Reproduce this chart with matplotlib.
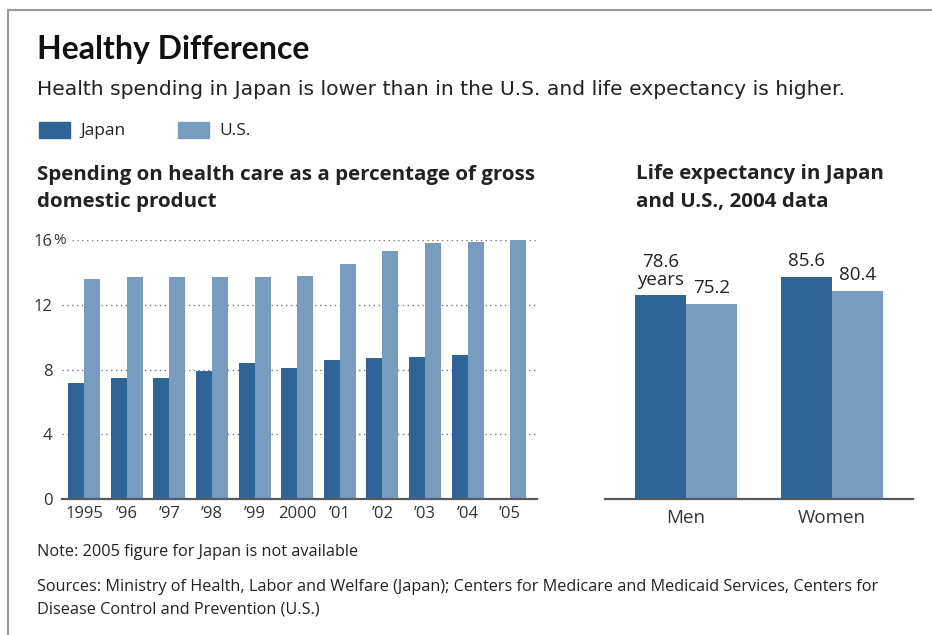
import numpy as np
import matplotlib
matplotlib.use("Agg")
from matplotlib import pyplot as plt
from matplotlib import font_manager
from matplotlib.patches import Rectangle
from matplotlib.lines import Line2D

### data ###
years = ['1995', '\u201996', '\u201997', '\u201998', '\u201999', '2000',
         '\u201901', '\u201902', '\u201903', '\u201904', '\u201905']
japan_spend = [7.2, 7.5, 7.5, 7.9, 8.4, 8.1, 8.6, 8.7, 8.8, 8.9, None]
us_spend = [13.6, 13.7, 13.7, 13.7, 13.7, 13.8, 14.5, 15.3, 15.8, 15.9, 16.0]
spend_ticks = [0, 4, 8, 12, 16]

sexes = ['Men', 'Women']
japan_life = [78.6, 85.6]
us_life = [75.2, 80.4]

JAPAN_C = '#2f6496'
US_C = '#789bc0'

W, H = 932, 635

installed = {f.name for f in font_manager.fontManager.ttflist}
def pick(*names):
    for n in names:
        if n in installed:
            return n
    return 'DejaVu Sans'

TITLE_F = pick('Liberation Sans Narrow', 'DejaVu Sans Condensed', 'Lato')
BODY_F = pick('Open Sans', 'DejaVu Sans')
plt.rcParams['font.family'] = BODY_F

fig = plt.figure(figsize=(W / 100, H / 100), dpi=100)

def fx(x):
    return x / W

def fy(y):
    return 1 - y / H

def px_axes(x0, x1, y0, y1):
    return fig.add_axes([fx(x0), fy(y1), (x1 - x0) / W, (y1 - y0) / H])

# frame
fig.add_artist(Line2D([fx(8), 1], [fy(9.5), fy(9.5)], color='#9a9a9a', lw=1.5))
fig.add_artist(Line2D([fx(8), fx(8)], [fy(9.5), 0], color='#9a9a9a', lw=1.5))

### headings ###
fig.text(fx(37), fy(59), 'Healthy Difference', family=TITLE_F, weight='bold',
         fontsize=23, color='#111111', va='baseline')
fig.text(fx(37), fy(95), 'Health spending in Japan is lower than in the U.S. and life expectancy is higher.',
         family='DejaVu Sans', fontsize=14.6, color='#222222', va='baseline')

# legend
for x0, c, lab in [(39, JAPAN_C, 'Japan'), (178, US_C, 'U.S.')]:
    fig.add_artist(Rectangle((fx(x0), fy(138)), 31 / W, 16 / H, color=c,
                             transform=fig.transFigure))
    fig.text(fx(x0 + 41), fy(135), lab, fontsize=12.5, color='#222222', va='baseline')

fig.text(fx(37), fy(180), 'Spending on health care as a percentage of gross',
         fontsize=14.75, weight='bold', color='#222222', va='baseline')
fig.text(fx(37), fy(207), 'domestic product',
         fontsize=14.75, weight='bold', color='#222222', va='baseline')
fig.text(fx(636), fy(179), 'Life expectancy in Japan',
         fontsize=14.75, weight='bold', color='#222222', va='baseline')
fig.text(fx(636), fy(207), 'and U.S., 2004 data',
         fontsize=14.75, weight='bold', color='#222222', va='baseline')

### left chart: spending ###
ax = px_axes(61.7, 537, 240, 499.3)
bw = 0.375
idx = np.arange(len(years))
jx = [i - bw / 2 for i, v in zip(idx, japan_spend) if v is not None]
jv = [v for v in japan_spend if v is not None]
ax.bar(jx, jv, width=bw, color=JAPAN_C, zorder=2)
ax.bar(idx + bw / 2, us_spend, width=bw, color=US_C, zorder=2)
ax.set_xlim(-0.53, 10.63)
ax.set_ylim(0, 16)
for t in spend_ticks[1:]:
    xmin = 0.022 if t == 16 else 0
    ax.axhline(t, xmin=xmin, color='#777777', lw=1, ls=(0, (1, 2.5)), zorder=1)
ax.set_yticks(spend_ticks)
ax.set_yticklabels([str(t) for t in spend_ticks])
ax.text(-0.018, 16, '%', transform=ax.get_yaxis_transform(), fontsize=11,
        color='#333333', va='center', ha='left')
ax.set_xticks(idx)
ax.set_xticklabels(years)
ax.tick_params(axis='y', length=0, pad=6.5, labelsize=12, labelcolor='#333333')
ax.tick_params(axis='x', length=0, pad=5, labelsize=12, labelcolor='#333333')
for s in ['top', 'right', 'left']:
    ax.spines[s].set_visible(False)
ax.spines['bottom'].set_color('#5a5a5a')
ax.spines['bottom'].set_linewidth(1.6)
ax.spines['bottom'].set_zorder(3)

### right chart: life expectancy ###
ax2 = px_axes(605, 913, 240, 499.3)
bw2 = 0.35
sx = np.arange(len(sexes))
b1 = ax2.bar(sx - bw2 / 2, japan_life, width=bw2, color=JAPAN_C)
b2 = ax2.bar(sx + bw2 / 2, us_life, width=bw2, color=US_C)
ax2.set_xlim(-0.553, 1.557)
ax2.set_ylim(0, 100)
ax2.set_yticks([])
ax2.set_xticks(sx)
ax2.set_xticklabels(sexes)
ax2.tick_params(axis='x', length=0, pad=7, labelsize=13.5, labelcolor='#333333')
for s in ['top', 'right', 'left']:
    ax2.spines[s].set_visible(False)
ax2.spines['bottom'].set_color('#5a5a5a')
ax2.spines['bottom'].set_linewidth(1.6)

for bars, vals in [(b1, japan_life), (b2, us_life)]:
    for k, (r, v) in enumerate(zip(bars, vals)):
        lab = f'{v}'
        if bars is b1 and k == 0:
            lab = f'{v}\nyears'
        ax2.annotate(lab, (r.get_x() + r.get_width() / 2, v), xytext=(0, 5),
                     textcoords='offset points', ha='center', va='bottom',
                     fontsize=13.5, color='#222222', linespacing=1.0)

### notes ###
fig.text(fx(37), fy(556), 'Note: 2005 figure for Japan is not available',
         fontsize=11.7, color='#222222', va='baseline')
fig.text(fx(37), fy(591), 'Sources: Ministry of Health, Labor and Welfare (Japan); Centers for Medicare and Medicaid Services, Centers for',
         fontsize=11.7, color='#222222', va='baseline')
fig.text(fx(37), fy(613), 'Disease Control and Prevention (U.S.)',
         fontsize=11.7, color='#222222', va='baseline')

fig.savefig('out.png', dpi=100)
